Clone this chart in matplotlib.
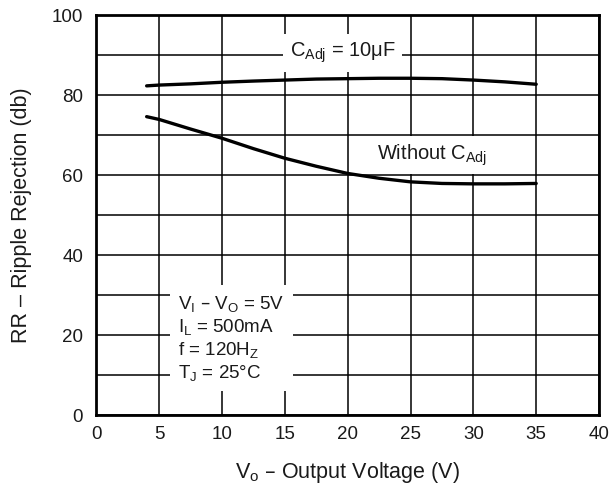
import numpy as np
import matplotlib.pyplot as plt

plt.rcParams['font.family'] = ['Liberation Sans', 'DejaVu Sans']
plt.rcParams['mathtext.default'] = 'regular'

# Data
vo = [4, 5, 7.5, 10, 12.5, 15, 17.5, 20, 22.5, 25, 27.5, 30, 32.5, 35]
rr_cadj = [82.3, 82.5, 82.8, 83.2, 83.5, 83.75, 84.0, 84.1, 84.2, 84.2, 84.1, 83.75, 83.3, 82.7]
rr_without = [74.6, 73.9, 71.5, 69.2, 66.6, 64.2, 62.2, 60.4, 59.2, 58.3, 57.9, 57.8, 57.8, 57.9]

x_ticks = [0, 5, 10, 15, 20, 25, 30, 35, 40]
y_ticks = [0, 20, 40, 60, 80, 100]

txt = '#1a1a1a'

fig = plt.figure(figsize=(6.1, 4.86), dpi=100)
ax = fig.add_axes([0.158, 0.146, 0.824, 0.823])

ax.set_xlim(0, 40)
ax.set_ylim(0, 100)
ax.set_xticks(x_ticks)
ax.set_yticks(y_ticks)
ax.set_yticks(np.arange(10, 100, 20), minor=True)
ax.grid(True, which='both', color='black', linewidth=1.1, zorder=0)
ax.set_axisbelow(True)
ax.tick_params(which='both', length=0, labelsize=13.5, colors=txt)
ax.tick_params(axis='y', pad=9.5)
ax.tick_params(axis='x', pad=8)
for s in ax.spines.values():
    s.set_linewidth(2.0)

ax.plot(vo, rr_cadj, color='black', linewidth=2.4, solid_capstyle='round', zorder=4)
ax.plot(vo, rr_without, color='black', linewidth=2.4, solid_capstyle='round', zorder=4)

ax.text(19.6, 90.5, 'C$_{Adj}$ = 10\u03bcF', fontsize=14.5, color=txt,
        ha='center', va='center',
        bbox=dict(facecolor='white', edgecolor='none', boxstyle='square,pad=0.33'), zorder=3)
ax.text(26.7, 65, 'Without C$_{Adj}$', fontsize=14.5, color=txt,
        ha='center', va='center',
        bbox=dict(facecolor='white', edgecolor='none', boxstyle='square,pad=0.33'), zorder=3)
ax.text(6.5, 19.25, 'V$_I$ \u2013 V$_O$ = 5V\nI$_L$ = 500mA\nf = 120H$_Z$\nT$_J$ = 25\u00b0C',
        fontsize=13.5, color=txt, ha='left', va='center', linespacing=1.2,
        bbox=dict(facecolor='white', edgecolor='none', boxstyle='square,pad=0.45'), zorder=3)

ax.set_xlabel('V$_o$ \u2013 Output Voltage (V)', fontsize=15.5, color=txt, labelpad=12)
ax.set_ylabel('RR \u2013 Ripple Rejection (db)', fontsize=15.5, color=txt, labelpad=14)

fig.savefig('out.png', dpi=100)
